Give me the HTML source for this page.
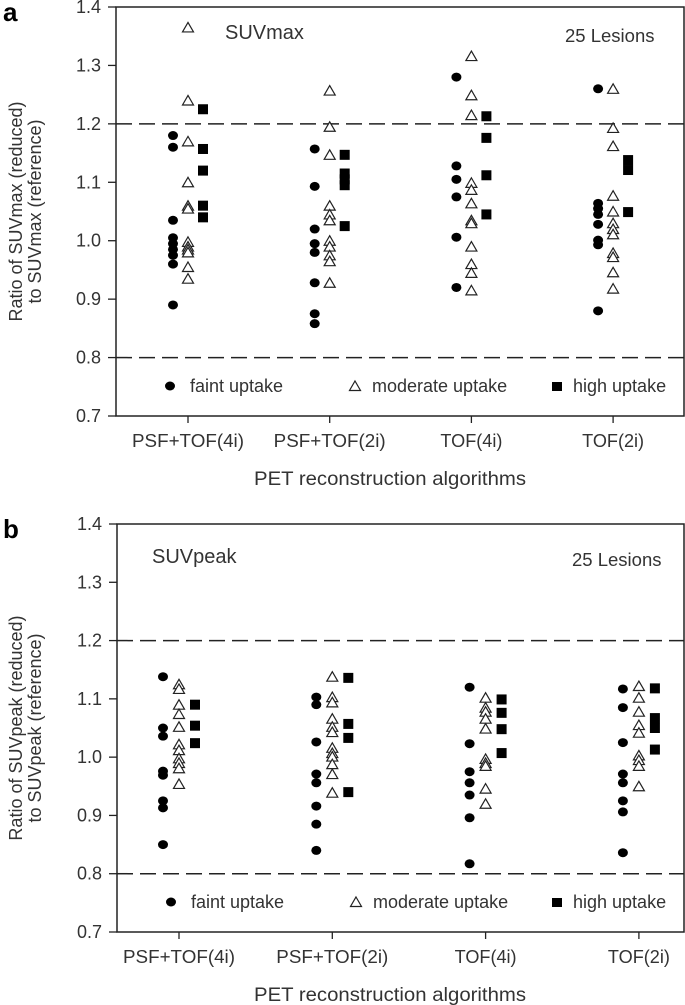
<!DOCTYPE html>
<html><head><meta charset="utf-8">
<style>
html,body{margin:0;padding:0;background:#fff;}
svg{display:block;font-family:"Liberation Sans",Arial,sans-serif;}
text{fill:#333;}
</style></head>
<body>
<svg id="fig" width="685" height="1005" viewBox="0 0 685 1005" xmlns="http://www.w3.org/2000/svg"></svg>
<script>
// ---- shared data ----
const categories = ["PSF+TOF(4i)", "PSF+TOF(2i)", "TOF(4i)", "TOF(2i)"];
const yTicks = [0.7, 0.8, 0.9, 1.0, 1.1, 1.2, 1.3, 1.4];
const yTickLabels = ["0.7", "0.8", "0.9", "1.0", "1.1", "1.2", "1.3", "1.4"];
const refLines = [0.8, 1.2];

// ---- panel a (SUVmax) ----
const maxFaint = [
  [1.18, 1.16, 1.035, 1.005, 0.995, 0.985, 0.975, 0.96, 0.89],
  [1.157, 1.093, 1.02, 0.995, 0.98, 0.928, 0.875, 0.858],
  [1.28, 1.128, 1.105, 1.075, 1.006, 0.92],
  [1.26, 1.064, 1.055, 1.045, 1.028, 1.001, 0.993, 0.88]
];
const maxModerate = [
  [1.365, 1.24, 1.17, 1.10, 1.06, 1.055, 0.998, 0.99, 0.985, 0.98, 0.955, 0.935],
  [1.257, 1.195, 1.147, 1.06, 1.045, 1.035, 1.0, 0.99, 0.975, 0.965, 0.928],
  [1.316, 1.249, 1.215, 1.099, 1.087, 1.064, 1.035, 1.03, 0.99, 0.96, 0.945, 0.915],
  [1.26, 1.193, 1.162, 1.077, 1.05, 1.03, 1.02, 1.011, 0.979, 0.972, 0.946, 0.918]
];
const maxHigh = [
  [1.225, 1.157, 1.12, 1.06, 1.04],
  [1.147, 1.115, 1.105, 1.095, 1.025],
  [1.213, 1.176, 1.112, 1.045],
  [1.138, 1.121, 1.049]
];

// ---- panel b (SUVpeak) ----
const peakFaint = [
  [1.138, 1.05, 1.036, 0.976, 0.969, 0.925, 0.913, 0.85],
  [1.103, 1.09, 1.026, 0.971, 0.956, 0.916, 0.885, 0.84],
  [1.12, 1.023, 0.975, 0.956, 0.935, 0.896, 0.817],
  [1.117, 1.085, 1.025, 0.971, 0.956, 0.925, 0.906, 0.836]
];
const peakModerate = [
  [1.125, 1.117, 1.09, 1.074, 1.052, 1.022, 1.012, 0.998, 0.99, 0.981, 0.954],
  [1.138, 1.103, 1.094, 1.066, 1.052, 1.043, 1.016, 1.007, 1.001, 0.988, 0.971, 0.939],
  [1.102, 1.085, 1.078, 1.066, 1.049, 0.997, 0.99, 0.985, 0.946, 0.92],
  [1.122, 1.102, 1.078, 1.055, 1.042, 1.003, 0.995, 0.985, 0.95]
];
const peakHigh = [
  [1.09, 1.054, 1.024],
  [1.136, 1.057, 1.033, 0.94],
  [1.099, 1.076, 1.048, 1.007],
  [1.118, 1.067, 1.05, 1.013]
];

const NS = "http://www.w3.org/2000/svg";
const svg = document.getElementById("fig");
function mk(tag, attrs, parent, txt) {
  const e = document.createElementNS(NS, tag);
  for (const k in attrs) e.setAttribute(k, attrs[k]);
  if (txt !== undefined) e.textContent = txt;
  (parent || svg).appendChild(e);
  return e;
}

function panel(cfg) {
  const g = mk("g", {});
  
  
  const L = cfg.left, R = 684, T = cfg.top, B = cfg.bottom;
  const y = v => B - (v - 0.7) / 0.7 * (B - T);
  const x = i => cfg.x0 + i * cfg.dx;

  const frame = mk("rect", {x: L, y: T, width: R - L, height: B - T, fill: "none", stroke: "#222", "stroke-width": 1.5}, g);
  
  

  refLines.forEach(v => {
    const l = mk("line", {x1: L, x2: R, y1: y(v), y2: y(v), stroke: "#222", "stroke-width": 1.5, "stroke-dasharray": "16,7"}, g);
    
    
  });

  yTicks.forEach((v, i) => {
    const t = mk("line", {x1: L - 8, x2: L, y1: y(v), y2: y(v), stroke: "#222", "stroke-width": 1.3}, g);
    
    
    const lb = mk("text", {x: L - 15, y: y(v) + 6, "text-anchor": "end", "font-size": 18}, g, yTickLabels[i]);
    
    
  });

  categories.forEach((c, i) => {
    const t = mk("line", {x1: x(i), x2: x(i), y1: B, y2: B + 7, stroke: "#222", "stroke-width": 1.3}, g);
    
    
    const lb = mk("text", {x: x(i), y: B + 31, "text-anchor": "middle", "font-size": 18.5, textLength: c.length > 8 ? 112 : 62, lengthAdjust: "spacingAndGlyphs"}, g, c);
    
    
  });

  const xt = mk("text", {x: 390, y: B + 69, "text-anchor": "middle", "font-size": 19.5, textLength: 272, lengthAdjust: "spacingAndGlyphs"}, g, "PET reconstruction algorithms");
  
  

  const cy = (T + B) / 2;
  const yt = mk("text", {transform: `translate(22,${cy}) rotate(-90)`, "text-anchor": "middle", "font-size": 18}, g);
  
  
  mk("tspan", {x: 0, y: 0}, yt, cfg.ylab1);
  mk("tspan", {x: 0, y: 19}, yt, cfg.ylab2);

  const pl = mk("text", {x: 3, y: T + 14, "font-size": 26, "font-weight": "bold"}, g, cfg.letter);
  
  
  pl.style.fill = "#000";

  const ti = mk("text", {x: cfg.titleX, y: T + cfg.titleDy, "font-size": 20}, g, cfg.title);
  
  
  const les = mk("text", {x: cfg.lesX, y: T + cfg.titleDy + 3, "font-size": 18.5}, g, "25 Lesions");
  
  

  const circle = (px, py, parent) => mk("ellipse", {cx: px, cy: py, rx: 5, ry: 4.5, fill: "#000"}, parent);
  const tri = (px, py, parent) => mk("path", {d: `M${px} ${py - 5}L${px + 5.5} ${py + 4.5}L${px - 5.5} ${py + 4.5}Z`, fill: "#fff", stroke: "#222", "stroke-width": 1.2}, parent);
  const sq = (px, py, parent) => mk("rect", {x: px - 5, y: py - 5, width: 10, height: 10, fill: "#000"}, parent);

  cfg.faint.forEach((arr, i) => arr.forEach(v => {
    const m = circle(x(i) + cfg.off[0], y(v), g);
    
    
  }));
  cfg.moderate.forEach((arr, i) => arr.forEach(v => {
    const m = tri(x(i), y(v), g);
    
    
  }));
  cfg.high.forEach((arr, i) => arr.forEach(v => {
    const m = sq(x(i) + cfg.off[1], y(v), g);
    
    
  }));

  const ly = B - 30;
  const lg = mk("g", {}, g);
  
  
  const e1 = mk("g", {}, lg);
  
  
  circle(cfg.leg[0], ly, e1);
  mk("text", {x: cfg.leg[0] + 20, y: ly + 6, "font-size": 18}, e1, "faint uptake");
  const e2 = mk("g", {}, lg);
  
  
  tri(cfg.leg[1], ly, e2);
  mk("text", {x: cfg.leg[1] + 17, y: ly + 6, "font-size": 18}, e2, "moderate uptake");
  const e3 = mk("g", {}, lg);
  
  
  mk("rect", {x: cfg.leg[2] - 5, y: ly - 4, width: 10, height: 9, fill: "#000"}, e3);
  mk("text", {x: cfg.leg[2] + 16, y: ly + 6, "font-size": 18}, e3, "high uptake");
}

panel({name: "panel-a-suvmax", letter: "a", left: 116, top: 7, bottom: 416, x0: 188, dx: 141.7, off: [-15, 15],
  faint: maxFaint, moderate: maxModerate, high: maxHigh, title: "SUVmax", titleX: 225, titleDy: 32, lesX: 565,
  ylab1: "Ratio of SUVmax (reduced)", ylab2: "to SUVmax (reference)", leg: [170, 355, 557]});
panel({name: "panel-b-suvpeak", letter: "b", left: 117, top: 524, bottom: 932, x0: 179, dx: 153.3, off: [-16, 16],
  faint: peakFaint, moderate: peakModerate, high: peakHigh, title: "SUVpeak", titleX: 152, titleDy: 39, lesX: 572,
  ylab1: "Ratio of SUVpeak (reduced)", ylab2: "to SUVpeak (reference)", leg: [171, 356, 557]});
</script>
</body></html>
